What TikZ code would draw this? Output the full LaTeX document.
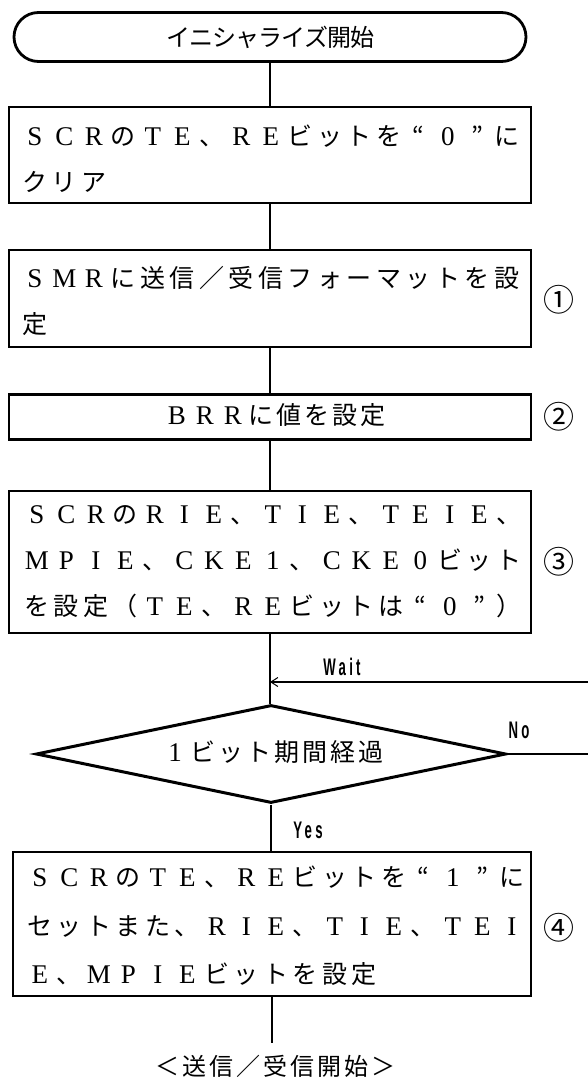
\documentclass[tikz,border=0pt]{standalone}
\usepackage{fontspec}
\setmainfont{Liberation Serif}
\newfontfamily\cjk{Noto Sans CJK JP}
\newfontfamily\lab{Liberation Sans}
\usetikzlibrary{arrows.meta,shapes.geometric}

\newlength\cw \setlength\cw{29.5pt}
\def\jsz{25}
\def\lsz{27}
\newcommand\latf{\rmfamily\fontsize{\lsz}{30}\selectfont}
\newcommand\jpf{\cjk\fontsize{\jsz}{30}\selectfont}
\def\cellit#1{\ifx#1\relax\else\makebox[\cw]{\ifnum`#1<"2000 \latf #1\else\jpf #1\fi}\expandafter\cellit\fi}
\newcommand\cells[1]{\cellit#1\relax}

\begin{document}
\begin{tikzpicture}[x=1pt,y=-1pt,
  pbox/.style={draw, line width=2.8pt, minimum width=522pt, inner sep=0pt},
  conn/.style={line width=1.2pt},
  row/.style={inner sep=0pt, anchor=west, text height=19pt, text depth=5pt},
  num/.style={inner sep=0pt, font=\cjk\fontsize{31}{33}\selectfont},
  lbl/.style={inner sep=0pt, font=\lab\bfseries\fontsize{24}{27}\selectfont}]
\useasboundingbox (0,0) rectangle (587,1078);

% boxes
\node[pbox, minimum width=512pt, minimum height=49pt, rounded corners=24.5pt] (term) at (270,37) {};
\node[inner sep=0pt] (termt) at (270,37) {\setlength\cw{23pt}\def\jsz{24}\cells{イニシャライズ開始}};

\node[pbox, minimum height=96pt] (b1) at (270,155) {};
\node[row] (b1r1) at (20,139) {\cells{SCRのTE、REビットを“0”に}};
\node[row] (b1r2) at (20,185) {\cells{クリア}};

\node[pbox, minimum height=97pt] (b2) at (270,298.5) {};
\node[row] (b2r1) at (20,280) {\cells{SMRに送信／受信フォーマットを設}};
\node[row] (b2r2) at (20,326) {\cells{定}};
\node[num] (n1) at (559,300) {①};

\node[pbox, minimum height=45pt] (b3) at (270,417) {};
\node[inner sep=0pt, text height=19pt, text depth=5pt] (b3t) at (275,417) {\setlength\cw{28pt}\cells{BRRに値を設定}};
\node[num] (n2) at (559,417) {②};

\node[pbox, minimum height=142pt] (b4) at (270,562) {};
\node[row] (b4r1) at (22,516) {\cells{SCRのRIE、TIE、TEIE、}};
\node[row] (b4r2) at (22,562) {\cells{MPIE、CKE1、CKE0ビット}};
\node[row] (b4r3) at (22,608) {\cells{を設定（TE、REビットは“0”）}};
\node[num] (n3) at (559,562) {③};

\node[diamond, draw, line width=3pt, minimum width=470pt, minimum height=98pt, inner sep=0pt] (dec) at (271,754) {};
\node[inner sep=0pt, text height=19pt, text depth=5pt] (dect) at (273,754) {\setlength\cw{28pt}\cells{1ビット期間経過}};

\node[pbox, minimum width=518pt, minimum height=144pt] (b5) at (272,924) {};
\node[row] (b5r1) at (25,879) {\cells{SCRのTE、REビットを“1”に}};
\node[row] (b5r2) at (25,928) {\cells{セットまた、RIE、TIE、TEI}};
\node[row] (b5r3) at (25,976) {\cells{E、MPIEビットを設定}};
\node[num] (n4) at (559,928) {④};

\coordinate (endp) at (272,1043);
\node[inner sep=0pt] (fin) at (275,1066) {\setlength\cw{27pt}\def\jsz{24}\cells{＜送信／受信開始＞}};

% labels
\node[lbl] (wait) at (342,667) {\scalebox{0.55}[1]{\addfontfeature{LetterSpace=25}Wait}};
\node[lbl] (no) at (519,730) {\scalebox{0.55}[1]{\addfontfeature{LetterSpace=25}No}};
\node[lbl] (yes) at (308,830) {\scalebox{0.55}[1]{\addfontfeature{LetterSpace=25}Yes}};

% connectors
\draw[conn] (term) -- (b1);
\draw[conn] (b1) -- (b2);
\draw[conn] (b2) -- (b3);
\draw[conn] (b3) -- (b4);
\draw[conn] (b4.south) -- (b4.south |- dec.north);
\draw[conn] (dec.south) -- (dec.south |- b5.north);
\draw[conn] (b5) -- (endp);

\coordinate (join) at (270,682);
\coordinate (rt1) at (596,754);
\coordinate (rt2) at (596,682);
\draw[conn] (dec.east) -- (rt1) -- (rt2);
\draw[conn, -{Straight Barb[length=7pt,width=9pt,line width=1pt]}] (rt2) -- (join);
\end{tikzpicture}
\end{document}
